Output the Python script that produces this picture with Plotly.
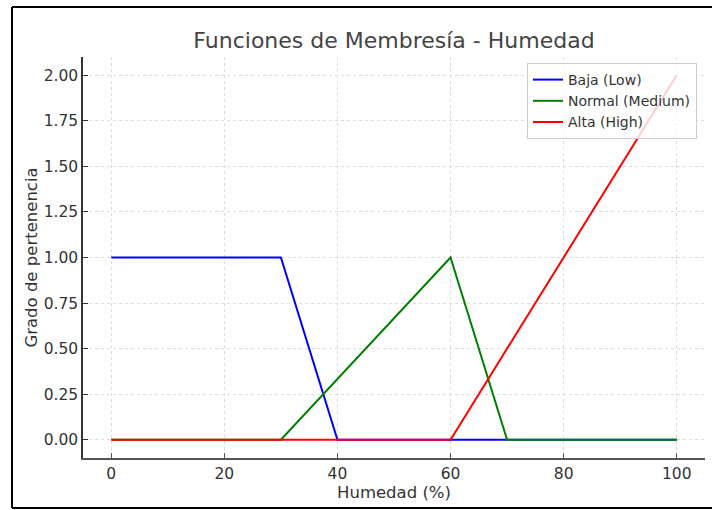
import plotly.graph_objects as go

# Data
humedad_baja_x = [0, 30, 40, 100]
baja_y = [1, 1, 0, 0]
humedad_normal_x = [0, 30, 60, 70, 100]
normal_y = [0, 0, 1, 0, 0]
humedad_alta_x = [0, 60, 100]
alta_y = [0, 0, 2]

series_names = ["Baja (Low)", "Normal (Medium)", "Alta (High)"]
colors = ["#0000ff", "#008000", "#ff0000"]

x_ticks = [0, 20, 40, 60, 80, 100]
y_ticks = [0, 0.25, 0.5, 0.75, 1.0, 1.25, 1.5, 1.75, 2.0]

fig = go.Figure()
for xs, ys, name, c in zip(
    [humedad_baja_x, humedad_normal_x, humedad_alta_x],
    [baja_y, normal_y, alta_y],
    series_names, colors):
    fig.add_trace(go.Scatter(x=xs, y=ys, mode="lines", name=name,
                             line=dict(color=c, width=2)))

font_family = "DejaVu Sans, sans-serif"
L, R, T, B = 83, 7, 57, 52
W, H = 712, 510
pw = W - L - R
ph = H - T - B

def px_to_paper_x(px):
    return (px - L) / pw

def px_to_paper_y(py):
    return (H - B - py) / ph

bx0, bx1 = px_to_paper_x(12), px_to_paper_x(712)
by0, by1 = px_to_paper_y(508), px_to_paper_y(7)
border = dict(color="black", width=2)

fig.update_layout(
    width=W, height=H,
    margin=dict(l=L, r=R, t=T, b=B, autoexpand=False),
    paper_bgcolor="white", plot_bgcolor="white",
    font=dict(family=font_family, color="#333333", size=15),
    title=dict(text="Funciones de Membresía - Humedad", x=0.5, xref="paper",
               xanchor="center", y=1 - 40 / H, yanchor="middle",
               font=dict(size=22, color="#444444")),
    showlegend=True,
    legend=dict(x=px_to_paper_x(527), y=px_to_paper_y(63), xanchor="left", yanchor="top",
                bgcolor="rgba(255,255,255,0.8)", bordercolor="#cccccc", borderwidth=1,
                font=dict(size=14, color="#333333"), tracegroupgap=0),
    xaxis=dict(range=[-5, 105], tickvals=x_ticks, ticktext=[str(v) for v in x_ticks],
               automargin=False,
               showgrid=True, gridcolor="#dcdcdc", griddash="3px,3px", gridwidth=1,
               zeroline=False, showline=True, linecolor="#555555", linewidth=2,
               ticks="inside", ticklen=5, tickcolor="#555555",
               title=dict(text="Humedad (%)", font=dict(size=16.5, color="#333333"), standoff=4),
               tickfont=dict(size=15.5, color="#333333")),
    yaxis=dict(range=[-0.1, 2.1], tickvals=y_ticks, ticktext=[f"{v:.2f}" for v in y_ticks],
               automargin=False,
               showgrid=True, gridcolor="#dcdcdc", griddash="3px,3px", gridwidth=1,
               zeroline=False, showline=True, linecolor="#333333", linewidth=1.5,
               ticks="inside", ticklen=5, tickcolor="#333333",
               title=dict(text="Grado de pertenencia", font=dict(size=16.5, color="#333333"), standoff=2),
               tickfont=dict(size=15.5, color="#333333")),
    shapes=[
        dict(type="line", xref="paper", yref="paper", x0=bx0, x1=bx1, y0=by1, y1=by1,
             line=border, layer="above"),
        dict(type="line", xref="paper", yref="paper", x0=bx0, x1=bx1, y0=by0, y1=by0,
             line=border, layer="above"),
        dict(type="line", xref="paper", yref="paper", x0=bx0, x1=bx0, y0=by0, y1=by1,
             line=border, layer="above"),
    ],
)

fig.write_html("out.html", config={"displayModeBar": False},
               post_script=("document.body.style.margin='0';"
                            "document.body.style.overflow='hidden';"
                            "document.documentElement.style.overflow='hidden';"
                            "document.body.style.background='white';"))
